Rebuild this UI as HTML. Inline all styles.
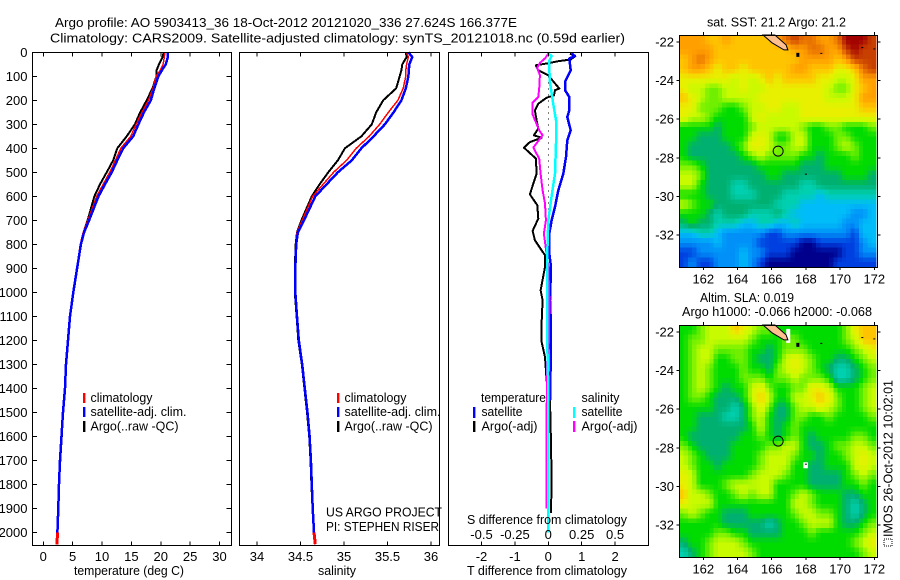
<!DOCTYPE html>
<html lang="en">
<head>
<meta charset="utf-8">
<title>Argo profile 5903413_36</title>
<style>
html,body{margin:0;padding:0;background:#fff}
#chart{display:block;width:900px;height:580px}
text{font-family:"Liberation Sans",sans-serif;font-size:12.5px;fill:#000}
</style>
</head>
<body>
<svg id="chart" xmlns="http://www.w3.org/2000/svg" width="900" height="580" viewBox="0 0 900 580">
<rect x="0" y="0" width="900" height="580" fill="#fff"/>
<text x="55" y="27" textLength="462" lengthAdjust="spacingAndGlyphs">Argo profile: AO 5903413_36 18-Oct-2012 20121020_336 27.624S 166.377E</text>
<text x="50" y="42.5" textLength="575" lengthAdjust="spacingAndGlyphs">Climatology: CARS2009. Satellite-adjusted climatology: synTS_20121018.nc (0.59d earlier)</text>
<g id="temp-panel"></g>
<g id="sal-panel"></g>
<g id="diff-panel"></g>
<g id="sst-map"></g>
<g id="sla-map"></g>

<text x="74" y="575" textLength="110" lengthAdjust="spacingAndGlyphs">temperature (deg C)</text>
<text x="318" y="575" textLength="38" lengthAdjust="spacingAndGlyphs">salinity</text>
<text x="467" y="575" textLength="160" lengthAdjust="spacingAndGlyphs">T difference from climatology</text>
<text x="467" y="524" textLength="160" lengthAdjust="spacingAndGlyphs">S difference from climatology</text>

<g>
<rect x="83" y="393" width="2.4" height="10" fill="#f00"/>
<rect x="83" y="407" width="2.4" height="10" fill="#00f"/>
<rect x="83" y="421" width="2.4" height="11" fill="#000"/>
<text x="90.5" y="402" textLength="62" lengthAdjust="spacingAndGlyphs">climatology</text>
<text x="90.5" y="416" textLength="96" lengthAdjust="spacingAndGlyphs">satellite-adj. clim.</text>
<text x="90.5" y="430.5" textLength="88" lengthAdjust="spacingAndGlyphs">Argo(..raw -QC)</text>
</g>
<g>
<rect x="337" y="393" width="2.4" height="10" fill="#f00"/>
<rect x="337" y="407" width="2.4" height="10" fill="#00f"/>
<rect x="337" y="421" width="2.4" height="11" fill="#000"/>
<text x="344.5" y="402" textLength="62" lengthAdjust="spacingAndGlyphs">climatology</text>
<text x="344.5" y="416" textLength="96" lengthAdjust="spacingAndGlyphs">satellite-adj. clim.</text>
<text x="344.5" y="430.5" textLength="88" lengthAdjust="spacingAndGlyphs">Argo(..raw -QC)</text>
<text x="326" y="516.5" textLength="116" lengthAdjust="spacingAndGlyphs">US ARGO PROJECT</text>
<text x="326" y="531" textLength="113" lengthAdjust="spacingAndGlyphs">PI: STEPHEN RISER</text>
</g>
<g>
<text x="481" y="402" textLength="65" lengthAdjust="spacingAndGlyphs">temperature</text>
<text x="581.5" y="402" textLength="38" lengthAdjust="spacingAndGlyphs">salinity</text>
<rect x="473" y="407" width="2.4" height="11" fill="#00f"/>
<rect x="473" y="421" width="2.4" height="11" fill="#000"/>
<rect x="573" y="407" width="2.4" height="11" fill="#0ff"/>
<rect x="573" y="421" width="2.4" height="11" fill="#f0f"/>
<text x="481.5" y="416" textLength="41" lengthAdjust="spacingAndGlyphs">satellite</text>
<text x="481.5" y="430.5" textLength="56" lengthAdjust="spacingAndGlyphs">Argo(-adj)</text>
<text x="581.5" y="416" textLength="41" lengthAdjust="spacingAndGlyphs">satellite</text>
<text x="581.5" y="430.5" textLength="56" lengthAdjust="spacingAndGlyphs">Argo(-adj)</text>
</g>

<text x="707" y="26.5" textLength="139" lengthAdjust="spacingAndGlyphs">sat. SST: 21.2 Argo: 21.2</text>
<text x="700" y="302" textLength="94" lengthAdjust="spacingAndGlyphs">Altim. SLA: 0.019</text>
<text x="682" y="316" textLength="190" lengthAdjust="spacingAndGlyphs">Argo h1000: -0.066 h2000: -0.068</text>
<rect x="884" y="539" width="8" height="7" fill="none" stroke="#000" stroke-width="1" stroke-dasharray="1 1"/>
<text transform="translate(892.5,537) rotate(-90)" textLength="157" lengthAdjust="spacingAndGlyphs">IMOS 26-Oct-2012 10:02:01</text>

<script>
/* ---------- shared profile axes ---------- */
const depthTicks = [0,100,200,300,400,500,600,700,800,900,1000,1100,1200,1300,1400,1500,1600,1700,1800,1900,2000];
const tempTicks = [0,5,10,15,20,25,30];
const salTicks = [34,34.5,35,35.5,36];
const tDiffTicks = [-2,-1,0,1,2];
const sDiffTicks = [-0.5,-0.25,0,0.25,0.5];

/* ---------- temperature / salinity profiles ---------- */
const profileDepths = [0,20,50,75,100,150,200,250,300,350,400,450,500,550,600,700,750,800,900,1000,1100,1200,1300,1400,1500,1600,1700,1800,1900,2000];
const tempClim = [20.7,20.6,20.4,19.9,19.2,18.7,17.9,16.8,15.8,14.9,13.2,12.3,11.3,10.2,9.1,7.6,6.8,6.3,5.7,5.05,4.5,4.15,3.85,3.65,3.3,3.05,2.85,2.65,2.55,2.4];
const tempSat = [21.2,21.2,20.85,20.2,19.6,18.9,18.3,17.15,16.2,15.3,13.6,12.6,11.65,10.5,9.4,7.8,6.95,6.4,5.75,5.1,4.55,4.2,3.87,3.7,3.35,3.1,2.85,2.67,2.55,2.4];
const tempArgo = [20.5,20.3,19.7,19.3,19.25,18.6,17.6,16.5,15.6,14.2,12.6,11.9,10.8,9.65,8.7,7.55,6.85,6.35,5.72,5.08,4.53,4.18,3.85,3.67,3.33,3.15,2.9,2.7,2.56,2.42];
const salClim = [35.72,35.74,35.72,35.71,35.71,35.68,35.62,35.51,35.41,35.29,35.14,35.03,34.88,34.76,34.64,34.52,34.46,34.45,34.44,34.44,34.46,34.48,34.52,34.55,34.58,34.605,34.62,34.63,34.64,34.655];
const salSat = [35.74,35.785,35.75,35.745,35.74,35.71,35.66,35.57,35.47,35.34,35.2,35.09,34.93,34.8,34.67,34.54,34.47,34.45,34.44,34.44,34.46,34.48,34.52,34.55,34.58,34.605,34.62,34.63,34.64,34.655];
const salArgo = [35.71,35.72,35.67,35.66,35.64,35.6,35.45,35.37,35.32,35.2,35.01,34.93,34.82,34.72,34.63,34.51,34.46,34.445,34.435,34.435,34.455,34.475,34.515,34.545,34.575,34.6,34.615,34.625,34.638,34.652];
const climExtraDepth = [2000,2050];
const tempClimExtra = [2.4,2.35];
const salClimExtra = [34.655,34.67];

/* ---------- difference profiles ---------- */
const tSatDepths = [5,16,26,75,123,158,186,242,269,325,367,436,506,575,644,700,756,839,894,1033,1100,1200,1300,1400,1450];
const tSatDiff = [0.7,0.8,0.63,0.67,0.5,0.5,0.63,0.63,0.57,0.67,0.57,0.53,0.45,0.3,0.2,0.1,0.03,0.03,0.08,0.05,0.07,0.08,0.07,0.06,0.05];
const tArgoDepths = [5,17,30,37,44,54,75,82,96,130,151,158,179,189,214,242,283,318,346,356,374,397,443,506,547,592,637,693,744,783,846,894,992,1033,1130,1206,1270,1367,1450,1630,1783,1920];
const tArgoDiff = [0.65,0.8,0.67,0.3,0.05,-0.37,-0.3,-0.2,0,0.2,0.33,0.2,0.17,-0.05,-0.3,-0.4,-0.35,-0.3,-0.43,-0.2,-0.55,-0.73,-0.37,-0.35,-0.45,-0.55,-0.33,-0.3,-0.47,-0.4,-0.1,-0.1,-0.23,-0.17,-0.2,-0.2,-0.1,-0.05,0.05,0.08,0.1,0.08];
const sSatDepths = [5,16,37,123,214,283,380,506,600,700,850,1033,1200,1400,1600,1800,2000];
const sSatDiff = [0,0.025,0.005,0.012,0.037,0.058,0.058,0.05,0.025,0,-0.008,-0.008,-0.008,0,0,0,0];
const sArgoDepths = [5,26,44,65,96,151,186,211,257,292,325,346,397,443,506,575,630,700,756,894,1033,1200,1300,1500,1700,1900];
const sArgoDiff = [0,-0.025,-0.063,-0.083,-0.063,-0.068,-0.075,-0.118,-0.118,-0.093,-0.068,-0.043,-0.112,-0.068,-0.058,-0.043,-0.025,-0.018,-0.033,0,0.008,0.005,-0.01,-0.012,-0.012,-0.012];

/* ---------- map axes & cells ---------- */
const lonTicks = [162,164,166,168,170,172];
const latTicks = [-22,-24,-26,-28,-30,-32];
const sstLevels = [
[11,11,11,10,10,11,10,10,10,10,10,11,12,13,12,12,11,11,12,14,14,14,13],
[11,11,11,11,10,10,10,10,10,10,10,10,10,11,11,12,12,11,11,13,14,13,13],
[10,11,12,11,10,10,10,10,10,10,10,10,10,10,11,11,11,11,10,11,13,13,13],
[10,11,11,10,9,10,10,9,10,10,10,10,10,11,11,10,10,10,9,9,10,12,13],
[9,9,9,9,9,9,8,9,8,9,10,9,10,10,10,10,9,9,8,8,9,11,11],
[9,8,8,7,7,8,8,9,8,8,9,9,9,9,9,9,9,8,7,7,9,10,11],
[10,9,8,7,7,8,8,8,8,9,9,9,9,9,9,9,9,8,8,8,9,11,11],
[9,9,7,7,7,6,6,7,8,8,9,9,8,8,9,9,9,9,9,9,9,10,10],
[9,8,8,7,6,6,6,6,8,9,8,8,8,8,9,9,9,9,9,9,9,9,9],
[6,6,6,6,5,6,6,6,7,8,8,8,8,8,7,6,6,7,7,6,6,6,7],
[6,6,5,5,5,6,6,6,8,9,8,6,6,8,8,6,6,6,7,7,6,6,6],
[6,5,5,5,5,5,6,7,9,9,8,7,7,8,8,6,6,6,7,8,7,6,6],
[6,5,5,5,5,5,5,6,7,8,7,7,7,7,6,6,5,6,6,6,7,6,6],
[7,7,6,5,5,5,5,5,5,6,6,6,6,6,5,5,5,6,6,6,6,6,6],
[8,8,7,5,5,5,5,5,5,5,6,6,5,5,5,5,5,5,5,6,6,6,5],
[8,8,6,5,5,5,4,4,5,5,5,5,5,5,4,4,5,5,5,5,5,5,5],
[6,6,6,5,5,5,4,4,4,5,5,5,4,4,4,4,3,4,4,4,4,4,4],
[8,7,6,6,5,5,5,5,5,5,5,4,4,4,3,3,3,3,3,3,3,3,3],
[6,6,6,5,4,5,5,5,4,4,4,5,4,3,3,3,3,3,3,3,2,2,3],
[5,6,5,5,4,4,4,3,3,4,4,3,3,4,3,3,3,3,3,2,2,3,3],
[3,3,4,4,3,2,2,2,2,2,1,1,2,2,2,2,2,2,2,2,1,3,3],
[2,2,2,2,3,2,2,2,2,1,1,1,1,1,0,0,1,1,1,1,1,2,3],
[1,1,2,2,2,2,2,3,2,2,1,1,1,0,0,0,0,0,0,1,1,2,2],
[1,2,1,1,2,2,2,3,2,1,0,0,0,0,0,0,0,0,1,1,1,1,1]
];
const slaLevels = [
[6,6,7,8,8,8,10,9,8,7,7,6,6,6,6,6,6,6,6,7,9,10,10],
[6,7,7,8,8,8,8,8,7,6,6,6,7,7,6,6,6,6,6,7,8,10,10],
[6,7,8,8,7,7,7,7,6,6,5,6,7,7,7,6,6,6,6,6,7,8,9],
[6,7,8,8,6,6,7,7,6,5,5,6,8,9,8,7,6,6,5,5,6,7,8],
[6,7,8,7,6,6,6,7,6,6,5,7,8,9,8,7,6,5,4,4,5,6,7],
[6,7,8,7,6,6,6,7,7,7,6,7,7,8,7,7,7,6,4,4,5,6,7],
[6,7,8,7,6,5,6,6,8,9,7,6,6,7,7,9,9,8,6,6,6,7,8],
[6,7,7,6,5,5,5,6,8,10,8,6,6,8,8,9,10,9,7,6,6,7,8],
[6,6,6,6,5,5,4,5,7,9,7,5,5,7,8,8,9,8,7,6,6,7,8],
[6,6,5,5,5,4,4,5,7,8,6,5,5,7,7,6,6,7,6,6,6,6,7],
[6,6,5,5,5,5,5,5,6,8,6,5,6,7,6,6,6,6,6,6,6,6,6],
[6,5,5,5,5,5,5,6,6,7,6,5,6,7,6,5,6,6,6,6,7,7,6],
[7,6,5,5,5,5,6,6,6,6,7,7,8,8,6,5,5,6,7,7,8,8,7],
[8,7,6,5,5,5,6,6,6,7,8,8,8,7,6,6,5,6,6,7,8,9,8],
[8,7,6,6,5,6,6,6,6,7,8,8,8,6,6,5,5,6,6,6,8,9,8],
[9,8,6,6,6,6,6,6,7,8,8,8,7,6,6,5,5,5,5,6,7,8,7],
[9,8,6,6,6,7,8,8,8,8,8,6,6,6,6,5,5,5,5,6,6,7,6],
[10,8,8,7,6,6,7,8,7,8,8,6,6,7,8,7,6,6,6,5,5,6,6],
[9,8,8,8,6,6,6,6,6,6,6,6,6,8,8,7,6,6,6,5,4,5,6],
[7,8,7,6,6,5,5,5,6,6,6,6,6,7,8,8,7,7,6,5,4,5,6],
[6,6,6,6,6,5,5,5,5,5,4,5,6,6,7,8,8,8,6,5,5,6,7],
[6,6,6,6,7,7,6,6,5,5,5,5,6,6,6,7,6,6,6,6,6,7,8],
[5,6,6,7,8,8,8,7,6,6,6,6,6,6,6,6,6,6,6,6,7,8,9],
[4,5,6,7,8,8,8,8,7,6,6,6,6,6,6,6,6,6,6,6,6,7,8]
];
const floatLon = [166.377];
const floatLat = [-27.624];
const islandLon = [165.49,166.19,166.84,166.95,166.72,166.02];
const islandLat = [-21.65,-21.65,-22.16,-22.42,-22.42,-22.05];
const reefLon = [167.5,168.9,171.3,172.0,168.0];
const reefLat = [-22.65,-22.65,-22.35,-22.42,-28.9];

const NS = 'http://www.w3.org/2000/svg';
function make(parent, tag, attrs, text) {
  const el = document.createElementNS(NS, tag);
  for (const k in attrs) el.setAttribute(k, attrs[k]);
  if (text !== undefined) el.textContent = text;
  parent.appendChild(el);
  return el;
}
function yDepth(d) { return 52.3 + d * 0.24; }
function line(parent, xs, ds, xFn, yFn, color, width, name) {
  const pts = xs.map((v, i) => xFn(v).toFixed(1) + ',' + yFn(ds[i]).toFixed(1)).join(' ');
  const el = make(parent, 'polyline', {points: pts, fill: 'none', stroke: color, 'stroke-width': width, 'stroke-linejoin': 'round', 'shape-rendering': 'crispEdges'});
  
  
  return el;
}
function label(parent, x, y, str, anchor, name) {
  const el = make(parent, 'text', {x: x, y: y, 'text-anchor': anchor}, str);
  el.style.fontSize = '13px';
  
  
  return el;
}
function tick(parent, x1, y1, x2, y2, name) {
  const el = make(parent, 'line', {x1: x1, y1: y1, x2: x2, y2: y2, stroke: '#000', 'stroke-width': 1, 'shape-rendering': 'crispEdges'});
  
  
}
function frame(parent, l, t, r, b) {
  const el = make(parent, 'rect', {x: l, y: t, width: r - l, height: b - t, fill: 'none', stroke: '#000', 'stroke-width': 1, 'shape-rendering': 'crispEdges'});
  
  
}

const TOP = 52.5, BOTTOM = 545.5;

/* temperature panel */
const xTemp = v => 43.3 + v * 5.873;
const tempG = document.getElementById('temp-panel');
line(tempG, tempArgo, profileDepths, xTemp, yDepth, '#000', 2, 'temperature-argo-line');
line(tempG, tempClim, profileDepths, xTemp, yDepth, '#f00', 1.5, 'temperature-climatology-line');
line(tempG, tempClimExtra, climExtraDepth, xTemp, yDepth, '#f00', 3, 'temperature-climatology-deep');
line(tempG, tempSat, profileDepths, xTemp, yDepth, '#00f', 2.5, 'temperature-satellite-line');
frame(tempG, 32.5, TOP, 231.5, BOTTOM);
depthTicks.forEach(d => {
  tick(tempG, 32.5, yDepth(d), 37, yDepth(d), 'depth-tick-left');
  tick(tempG, 226.5, yDepth(d), 231.5, yDepth(d), 'depth-tick-right');
  label(tempG, 27.5, yDepth(d) + 4.5, String(d), 'end', 'depth-tick-label');
});
tempTicks.forEach(v => {
  tick(tempG, xTemp(v), TOP, xTemp(v), TOP + 4, 'temperature-tick-top');
  tick(tempG, xTemp(v), BOTTOM - 4, xTemp(v), BOTTOM, 'temperature-tick-bottom');
  label(tempG, xTemp(v), 561, String(v), 'middle', 'temperature-tick-label');
});

/* salinity panel */
const xSal = v => 257 + (v - 34) * 87;
const salG = document.getElementById('sal-panel');
line(salG, salArgo, profileDepths, xSal, yDepth, '#000', 2, 'salinity-argo-line');
line(salG, salClim, profileDepths, xSal, yDepth, '#f00', 1.5, 'salinity-climatology-line');
line(salG, salClimExtra, climExtraDepth, xSal, yDepth, '#f00', 3, 'salinity-climatology-deep');
line(salG, salSat, profileDepths, xSal, yDepth, '#00f', 2.5, 'salinity-satellite-line');
frame(salG, 239.5, TOP, 439.5, BOTTOM);
salTicks.forEach(v => {
  tick(salG, xSal(v), TOP, xSal(v), TOP + 4, 'salinity-tick-top');
  tick(salG, xSal(v), BOTTOM - 4, xSal(v), BOTTOM, 'salinity-tick-bottom');
  label(salG, xSal(v), 561, String(v), 'middle', 'salinity-tick-label');
});

/* difference panel */
const xDiffT = v => 548.3 + v * 33.4;
const xDiffS = v => 548.3 + v * 4 * 33.4;
const diffG = document.getElementById('diff-panel');
const zero = make(diffG, 'line', {x1: xDiffT(0), y1: yDepth(100), x2: xDiffT(0), y2: yDepth(700), stroke: '#000', 'stroke-width': 1, 'stroke-dasharray': '1 5', 'shape-rendering': 'crispEdges'});


line(diffG, tArgoDiff, tArgoDepths, xDiffT, yDepth, '#000', 2, 't-difference-argo-line');
line(diffG, tSatDiff, tSatDepths, xDiffT, yDepth, '#00f', 2.5, 't-difference-satellite-line');
line(diffG, sArgoDiff, sArgoDepths, xDiffS, yDepth, '#f0f', 2, 's-difference-argo-line');
line(diffG, sSatDiff, sSatDepths, xDiffS, yDepth, '#0ff', 2.5, 's-difference-satellite-line');
frame(diffG, 448.5, TOP, 648.5, BOTTOM);
tDiffTicks.forEach(v => {
  tick(diffG, xDiffT(v), TOP, xDiffT(v), TOP + 4, 't-difference-tick-top');
  tick(diffG, xDiffT(v), BOTTOM - 4, xDiffT(v), BOTTOM, 't-difference-tick-bottom');
  label(diffG, xDiffT(v), 561, String(v), 'middle', 't-difference-tick-label');
});
sDiffTicks.forEach(v => {
  label(diffG, xDiffS(v), 539, String(v), 'middle', 's-difference-tick-label');
});

/* maps */
const xLon = lon => 703.3 + (lon - 162) * 17.1;
const paletteRgb = [[0,0,140],[0,64,224],[0,144,248],[0,188,248],[0,208,176],[0,176,112],[0,220,0],[112,240,0],[200,250,0],[232,240,0],[255,196,0],[255,160,0],[232,112,0],[200,64,0],[160,0,0]];
function levelColor(level) {
  const lo = Math.min(Math.floor(level), paletteRgb.length - 2);
  const f = level - lo;
  const rgb = paletteRgb[lo].map((c, i) => Math.round(c + (paletteRgb[lo + 1][i] - c) * f));
  return 'rgb(' + rgb.join(',') + ')';
}
function sampleLevel(levels, rowPos, colPos) {
  const rows = levels.length, cols = levels[0].length;
  const r = Math.max(0, Math.min(rows - 1, rowPos));
  const c = Math.max(0, Math.min(cols - 1, colPos));
  const r0 = Math.min(Math.floor(r), rows - 2), c0 = Math.min(Math.floor(c), cols - 2);
  const fr = r - r0, fc = c - c0;
  return (levels[r0][c0] * (1 - fc) + levels[r0][c0 + 1] * fc) * (1 - fr) +
         (levels[r0 + 1][c0] * (1 - fc) + levels[r0 + 1][c0 + 1] * fc) * fr;
}
const MAP_LEFT = 679.5, MAP_RIGHT = 877.5;
function drawMap(id, levels, top, prefix) {
  const g = document.getElementById(id);
  const yLat = lat => top + 6.8 + (-22 - lat) * 19.33;
  const lon0 = 160.6, lat0 = -21.65, step = 0.25;
  const nRows = levels.length * 2, nCols = levels[0].length * 2;
  for (let r = 0; r < nRows; r++) {
    for (let c = 0; c < nCols; c++) {
      const lv = sampleLevel(levels, (r + 0.5) / 2 - 0.5, (c + 0.5) / 2 - 0.5);
      const x0 = xLon(lon0 + c * step), y0 = yLat(lat0 - r * step);
      const cell = make(g, 'rect', {x: x0.toFixed(2), y: y0.toFixed(2), width: (xLon(lon0 + (c + 1) * step) - x0 + 0.5).toFixed(2), height: (yLat(lat0 - (r + 1) * step) - y0 + 0.5).toFixed(2), fill: levelColor(lv), 'shape-rendering': 'crispEdges'});
      
      
    }
  }
  if (prefix === 'sla') {
    const w1 = make(g, 'rect', {x: xLon(166.85), y: yLat(-21.85), width: 4, height: 14, fill: '#fff'});
    
    
    const w2 = make(g, 'rect', {x: xLon(167.85), y: yLat(-28.75), width: 4.5, height: 6, fill: '#fff'});
    
    
  }
  const isl = make(g, 'polygon', {points: islandLon.map((v, i) => xLon(v).toFixed(1) + ',' + yLat(islandLat[i]).toFixed(1)).join(' '), fill: '#ffc090', stroke: '#000', 'stroke-width': 1});
  
  
  reefLon.forEach((lon, i) => {
    const dot = make(g, 'rect', {x: xLon(lon) - 1, y: yLat(reefLat[i]) - 1.5, width: i === 0 ? 3 : 2, height: i === 0 ? 4 : 1, fill: '#000'});
    
    
  });
  const marker = make(g, 'circle', {cx: xLon(floatLon[0]), cy: yLat(floatLat[0]) + 0.6, r: 5, fill: 'none', stroke: '#000', 'stroke-width': 1});
  
  
  const bottom = top + 232;
  frame(g, MAP_LEFT, top + 0.5, MAP_RIGHT, bottom + 0.5);
  lonTicks.forEach(v => {
    tick(g, xLon(v), top - 3, xLon(v), top, 'longitude-tick-top');
    tick(g, xLon(v), bottom, xLon(v), bottom + 3, 'longitude-tick-bottom');
    label(g, xLon(v), bottom + 16.5, String(v), 'middle', 'longitude-tick-label');
  });
  latTicks.forEach(v => {
    tick(g, MAP_LEFT - 3, yLat(v), MAP_LEFT, yLat(v), 'latitude-tick-left');
    tick(g, MAP_RIGHT, yLat(v), MAP_RIGHT + 3, yLat(v), 'latitude-tick-right');
    label(g, 674, yLat(v) + 4.5, String(v), 'end', 'latitude-tick-label');
  });
}
drawMap('sst-map', sstLevels, 35, 'sst');
drawMap('sla-map', slaLevels, 325, 'sla');
</script>
</svg>
</body>
</html>
